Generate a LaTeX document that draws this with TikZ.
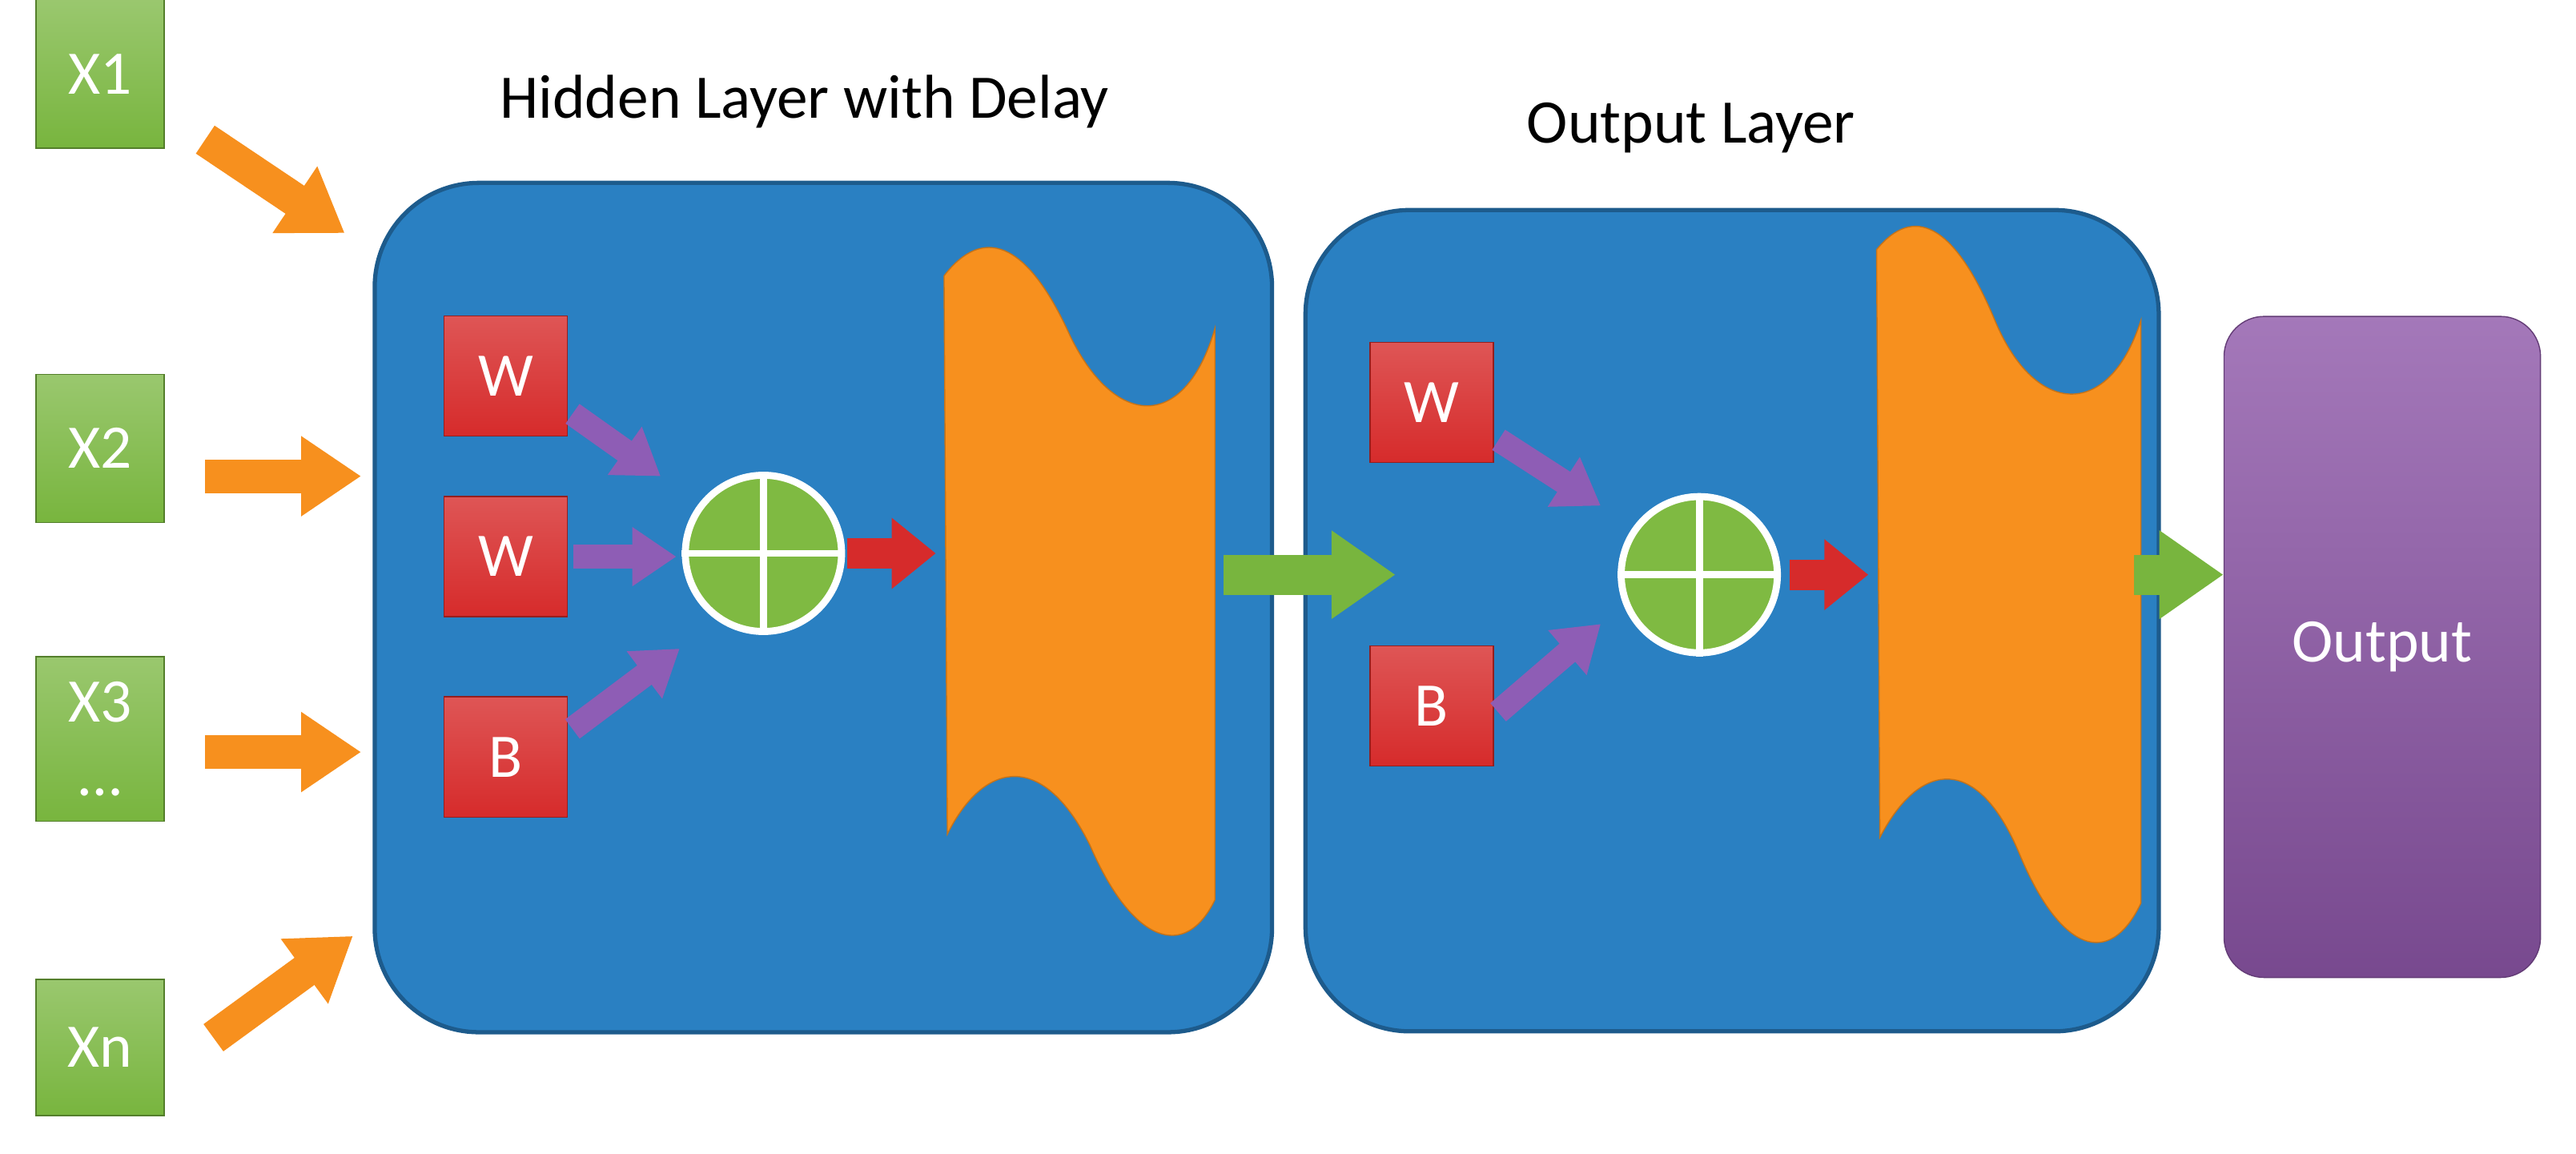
\documentclass[tikz,border=0pt]{standalone}
\usepackage{fontspec}
\setmainfont{Carlito}
\usetikzlibrary{arrows.meta}
\definecolor{gbox}{HTML}{78B53E}
\definecolor{blu}{HTML}{2A80C2}
\definecolor{blub}{HTML}{1D5B8C}
\definecolor{redb}{HTML}{D62B2B}
\definecolor{purp}{HTML}{8E5DB5}
\definecolor{orng}{HTML}{F7901E}
\definecolor{outp}{HTML}{8D56A8}
\definecolor{sumg}{HTML}{7FBA42}
\begin{document}
\begin{tikzpicture}[x=0.0205cm,y=-0.0205cm,
 inbox/.style={draw=gbox!70!black,top color=gbox!75!white,bottom color=gbox,minimum width=1.6cm,minimum height=1.85cm,text=white,font=\fontsize{22}{26}\selectfont,align=center},
 wbox/.style={draw=redb!70!black,top color=redb!80!white,bottom color=redb,minimum width=1.54cm,minimum height=1.5cm,text=white,font=\fontsize{22}{26}\selectfont},
 layer/.style={draw=blub,line width=1.5pt,fill=blu,rounded corners=1.3cm},
 title/.style={font=\fontsize{22}{26}\selectfont},
 sum/.style={circle,draw=white,line width=2.5pt,fill=sumg,minimum size=1.95cm},
 oarr/.style={orng,line width=0.42cm,-{Triangle[length=0.75cm,width=0.95cm]}},
 parr/.style={purp,line width=0.3cm,-{Triangle[length=0.55cm,width=0.7cm]}},
 rarr/.style={redb,line width=0.38cm,-{Triangle[length=0.55cm,width=0.85cm]}},
 garr/.style={gbox,line width=0.5cm,-{Triangle[length=0.8cm,width=1.05cm]}},
 sig/.style={fill=orng,draw=orng!80!black}]
\useasboundingbox (0,0) rectangle (1569,702.4);
% layers
\node[layer,minimum width=11.2cm,minimum height=10.6cm] (hid) at (501.5,370) {};
\node[layer,minimum width=10.65cm,minimum height=10.25cm] (outl) at (1055,378) {};
\node[title] (t1) at (490,62) {Hidden Layer with Delay};
\node[title] (t2) at (1030,78) {Output Layer};
% inputs
\node[inbox] (x1) at (61,45) {X1};
\node[inbox] (x2) at (61,273) {X2};
\node[inbox,minimum height=2.05cm] (x3) at (61,450) {X3\\…};
\node[inbox,minimum height=1.7cm] (xn) at (61,638) {Xn};
\coordinate (e1) at (210,142);
\coordinate (e2) at (220,290);
\coordinate (e3) at (220,458);
\coordinate (e4) at (215,570);
\coordinate (s1) at (125,85);
\coordinate (s2) at (125,290);
\coordinate (s3) at (125,458);
\coordinate (s4) at (130,632);
\draw[oarr] (s1) -- (e1);
\draw[oarr] (s2) -- (e2);
\draw[oarr] (s3) -- (e3);
\draw[oarr] (s4) -- (e4);
% hidden layer content
\node[wbox] (w1) at (308,229) {W};
\node[wbox] (w2) at (308,339) {W};
\node[wbox] (b1) at (308,461) {B};
\node[sum] (s) at (465,337) {};
\draw[white,line width=2.5pt] (s.north) -- (s.south) (s.west) -- (s.east);
\draw[parr,shorten <=2pt,shorten >=4pt] (w1.east |- 0,250) -- (408,294);
\draw[parr,shorten <=2pt] (w2.east) -- (412,339);
\draw[parr,shorten <=2pt] (b1.east |- 0,446) -- (414,395);
\coordinate (r1s) at (516,337);
\coordinate (r1e) at (570,337);
\draw[rarr] (r1s) -- (r1e);
\draw[sig] (575,168) .. controls (598,138) and (625,145) .. (652,205) .. controls (680,262) and (722,262) .. (740,200) -- (740,548) .. controls (722,585) and (690,575) .. (664,515) .. controls (636,458) and (600,462) .. (577,508) -- cycle;
\coordinate (g1s) at (745,350);
\coordinate (g1e) at (850,350);
\draw[garr] (g1s) -- (g1e);
% output layer content
\node[wbox] (w3) at (872,245) {W};
\node[wbox] (b2) at (872,430) {B};
\node[sum] (s2n) at (1035,350) {};
\draw[white,line width=2.5pt] (s2n.north) -- (s2n.south) (s2n.west) -- (s2n.east);
\draw[parr,shorten <=2pt] (w3.east |- 0,266) -- (975,308);
\draw[parr,shorten <=2pt] (b2.east |- 0,436) -- (975,380);
\coordinate (r2s) at (1090,350);
\coordinate (r2e) at (1138,350);
\draw[rarr] (r2s) -- (r2e);
\draw[sig] (1143,152) .. controls (1165,125) and (1190,135) .. (1215,195) .. controls (1240,255) and (1285,255) .. (1304,195) -- (1304,550) .. controls (1285,590) and (1255,580) .. (1230,520) .. controls (1205,460) and (1170,462) .. (1145,510) -- cycle;
\node[draw=outp!70!black,top color=outp!80!white,bottom color=outp!85!black,rounded corners=0.5cm,minimum width=3.95cm,minimum height=8.25cm,text=white,font=\fontsize{22}{26}\selectfont] (out) at (1451,394) {Output};
\coordinate (g2s) at (1300,350);
\draw[garr] (g2s) -- (out.west |- g2s);
\end{tikzpicture}
\end{document}
